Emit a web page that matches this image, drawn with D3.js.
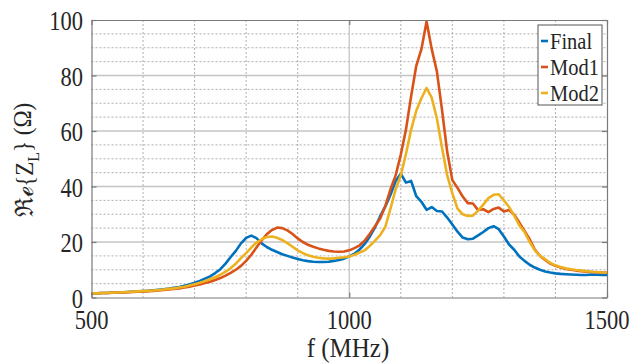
<!DOCTYPE html>
<html>
<head>
<meta charset="utf-8">
<script src="https://cdn.jsdelivr.net/npm/d3@7"></script>
<style>
  body { margin: 0; background: #fff; }
  svg { display: block; }
  svg text { font-family: 'Liberation Serif', 'Times New Roman', serif; }
</style>
</head>
<body>
<svg id="chart"></svg>
<script>
// frequency axis (MHz), shared by all series
const freq = d3.range(500, 1501, 10);

const finalVals = [
  1.5, 1.5, 1.6, 1.6, 1.7, 1.8, 1.9, 2.0, 2.1, 2.2,
  2.3, 2.4, 2.6, 2.8, 3.0, 3.2, 3.5, 3.8, 4.2, 4.7,
  5.3, 6.0, 6.8, 7.6, 8.8, 10.2, 12.2, 14.6, 16.8, 19.5,
  21.5, 22.3, 21.4, 19.5, 18.2, 17.2, 16.4, 15.6, 15.0, 14.4,
  13.9, 13.4, 13.1, 12.9, 12.8, 12.8, 12.9, 13.2, 13.5, 14.0,
  14.8, 15.8, 17.3, 19.3, 22.0, 25.3, 29.3, 32.8, 37.0, 42.0,
  44.6, 41.4, 42.0, 36.5, 34.5, 31.6, 32.6, 31.2, 31.0, 28.8,
  26.3, 23.7, 21.6, 21.0, 21.2, 22.4, 23.6, 25.0, 25.7, 24.6,
  22.0, 19.1, 17.2, 14.8, 13.2, 11.8, 10.8, 10.0, 9.4, 9.0,
  8.7, 8.5, 8.4, 8.3, 8.2, 8.1, 8.1, 8.3, 8.2, 8.1,
  8.1
];

const mod1Vals = [
  1.5, 1.5, 1.6, 1.6, 1.7, 1.8, 1.8, 1.9, 2.0, 2.1,
  2.2, 2.3, 2.4, 2.5, 2.7, 2.9, 3.1, 3.3, 3.6, 3.9,
  4.3, 4.7, 5.2, 5.7, 6.3, 7.0, 7.9, 8.9, 10.0, 11.4,
  13.2, 15.4, 18.0, 20.6, 22.8, 24.3, 25.2, 25.0, 24.2, 22.9,
  21.3, 20.0, 19.0, 18.3, 17.7, 17.2, 16.8, 16.6, 16.5, 16.6,
  17.0, 17.8, 18.8, 20.5, 23.0, 25.7, 28.5, 33.0, 39.0, 44.0,
  51.5, 60.5, 72.5, 83.5, 89.5, 99.5, 89.5, 81.5, 67.5, 52.5,
  42.3, 39.5, 36.4, 34.0, 33.9, 31.5, 31.8, 30.8, 31.9, 32.4,
  31.0, 31.5, 29.8, 27.0, 24.0, 21.0, 17.3, 15.0, 13.5, 12.2,
  11.4, 10.8, 10.3, 10.0, 9.7, 9.5, 9.3, 9.2, 9.1, 9.0,
  8.9
];

const mod2Vals = [
  1.5, 1.5, 1.6, 1.6, 1.7, 1.8, 1.9, 2.0, 2.1, 2.2,
  2.3, 2.4, 2.5, 2.7, 2.9, 3.1, 3.3, 3.6, 3.9, 4.3,
  4.8, 5.3, 5.9, 6.6, 7.3, 8.2, 9.3, 10.6, 12.2, 14.2,
  16.0, 18.0, 19.8, 21.0, 21.8, 22.0, 21.5, 20.7, 19.6, 18.3,
  17.0, 16.0, 15.2, 14.7, 14.3, 14.1, 14.0, 14.1, 14.3, 14.5,
  14.8, 15.4, 16.2, 17.0, 18.6, 20.5, 22.5, 25.5, 32.0, 39.0,
  44.0, 51.7, 60.5, 67.3, 71.8, 75.5, 72.0, 64.5, 54.0, 44.0,
  37.5, 32.0, 30.0, 29.4, 29.5, 31.3, 33.5, 35.8, 37.0, 37.2,
  35.0, 32.6, 29.5, 26.0, 23.6, 20.0, 17.0, 15.0, 13.8, 12.5,
  11.6, 11.0, 10.5, 10.2, 9.9, 9.7, 9.5, 9.3, 9.2, 9.0,
  8.9
];

const seriesNames = ['Final', 'Mod1', 'Mod2'];
const seriesColors = ['#0072BD', '#D95319', '#EDB120'];
const xTicks = [500, 1000, 1500];
const yTicks = [0, 20, 40, 60, 80, 100];

const width = 630, height = 363;
const plotL = 91.5, plotR = 607, plotT = 20, plotB = 297.5;

const svg = d3.select('#chart')
  .attr('width', width)
  .attr('height', height);

const x = d3.scaleLinear().domain([500, 1500]).range([plotL, plotR]);
const y = d3.scaleLinear().domain([0, 100]).range([plotB, plotT]);

// minor grid (dotted)
svg.append('g')
  .selectAll('line')
  .data(d3.range(600, 1500, 100).filter(d => d !== 1000))
  .enter().append('line')
  .attr('x1', d => x(d)).attr('x2', d => x(d))
  .attr('y1', plotT).attr('y2', plotB)
  .attr('stroke', '#9a9a9a').attr('stroke-width', 0.8)
  .attr('stroke-dasharray', '2,2');

svg.append('g')
  .selectAll('line')
  .data(d3.range(5, 100, 5).filter(d => d % 20 !== 0))
  .enter().append('line')
  .attr('x1', plotL).attr('x2', plotR)
  .attr('y1', d => y(d)).attr('y2', d => y(d))
  .attr('stroke', '#9a9a9a').attr('stroke-width', 0.8)
  .attr('stroke-dasharray', '2,2');

// major grid (solid)
svg.append('g')
  .selectAll('line')
  .data([1000])
  .enter().append('line')
  .attr('x1', d => x(d)).attr('x2', d => x(d))
  .attr('y1', plotT).attr('y2', plotB)
  .attr('stroke', '#c4c4c4').attr('stroke-width', 1.3);

svg.append('g')
  .selectAll('line')
  .data([20, 40, 60, 80])
  .enter().append('line')
  .attr('x1', plotL).attr('x2', plotR)
  .attr('y1', d => y(d)).attr('y2', d => y(d))
  .attr('stroke', '#c4c4c4').attr('stroke-width', 1.3);

// curves
const line = d3.line()
  .x((d, i) => x(freq[i]))
  .y(d => y(d));

const allVals = [finalVals, mod1Vals, mod2Vals];

svg.append('g')
  .selectAll('path')
  .data(allVals)
  .enter().append('path')
  .attr('d', line)
  .attr('fill', 'none')
  .attr('stroke', (d, i) => seriesColors[i])
  .attr('stroke-width', 2.6)
  .attr('stroke-linejoin', 'round');

// axes box with inward ticks
const axisColor = '#7a7a7a';
const tickLen = 5;

svg.append('g')
  .attr('transform', `translate(0,${plotB})`)
  .call(d3.axisBottom(x).tickValues(xTicks).tickSizeInner(-tickLen).tickSizeOuter(0).tickFormat(''))
  .call(g => g.selectAll('line,path').attr('stroke', axisColor).attr('stroke-width', 1.2));

svg.append('g')
  .attr('transform', `translate(0,${plotT})`)
  .call(d3.axisTop(x).tickValues(xTicks).tickSizeInner(-tickLen).tickSizeOuter(0).tickFormat(''))
  .call(g => g.selectAll('line,path').attr('stroke', axisColor).attr('stroke-width', 1.2));

svg.append('g')
  .attr('transform', `translate(${plotL},0)`)
  .call(d3.axisLeft(y).tickValues(yTicks).tickSizeInner(-tickLen).tickSizeOuter(0).tickFormat(''))
  .call(g => g.selectAll('line,path').attr('stroke', axisColor).attr('stroke-width', 1.2));

svg.append('g')
  .attr('transform', `translate(${plotR},0)`)
  .call(d3.axisRight(y).tickValues(yTicks).tickSizeInner(-tickLen).tickSizeOuter(0).tickFormat(''))
  .call(g => g.selectAll('line,path').attr('stroke', axisColor).attr('stroke-width', 1.2));

// text helper: the reference text is a bit taller than wide
function label(px, py, str, size, anchor, sy, rotate) {
  const g = svg.append('g')
    .attr('transform', `translate(${px},${py})` + (rotate ? ` rotate(${rotate})` : ''));
  return g.append('text')
    .attr('transform', `scale(1,${sy})`)
    .attr('text-anchor', anchor)
    .attr('dy', '0.33em')
    .style('font-size', size + 'px')
    .attr('fill', '#262626')
    .text(str);
}

xTicks.forEach(t => label(x(t), 320, t, 22.5, 'middle', 1.18));
yTicks.forEach(t => label(83, y(t) + 1.5, t, 22.5, 'end', 1.18));

label(348, 348, 'f (MHz)', 25, 'middle', 1.1);

// y label with subscript
const yl = label(25, 160, '', 23, 'middle', 1.1, -90);
yl.append('tspan').text('ℜℯ{Z');
yl.append('tspan').style('font-size', '16px').attr('dy', '0.3em').text('L');
yl.append('tspan').attr('dy', '-0.3em').text('} (Ω)');

// legend
const lg = svg.append('g');
lg.append('rect')
  .attr('x', 538).attr('y', 25)
  .attr('width', 64).attr('height', 80)
  .attr('fill', '#fff')
  .attr('stroke', '#555').attr('stroke-width', 1);

seriesNames.forEach((name, i) => {
  const cy = 41 + i * 26;
  lg.append('line')
    .attr('x1', 541).attr('x2', 548)
    .attr('y1', cy).attr('y2', cy)
    .attr('stroke', seriesColors[i]).attr('stroke-width', 2.6);
  label(550, cy, name, 20.5, 'start', 1.12);
});
</script>
</body>
</html>
